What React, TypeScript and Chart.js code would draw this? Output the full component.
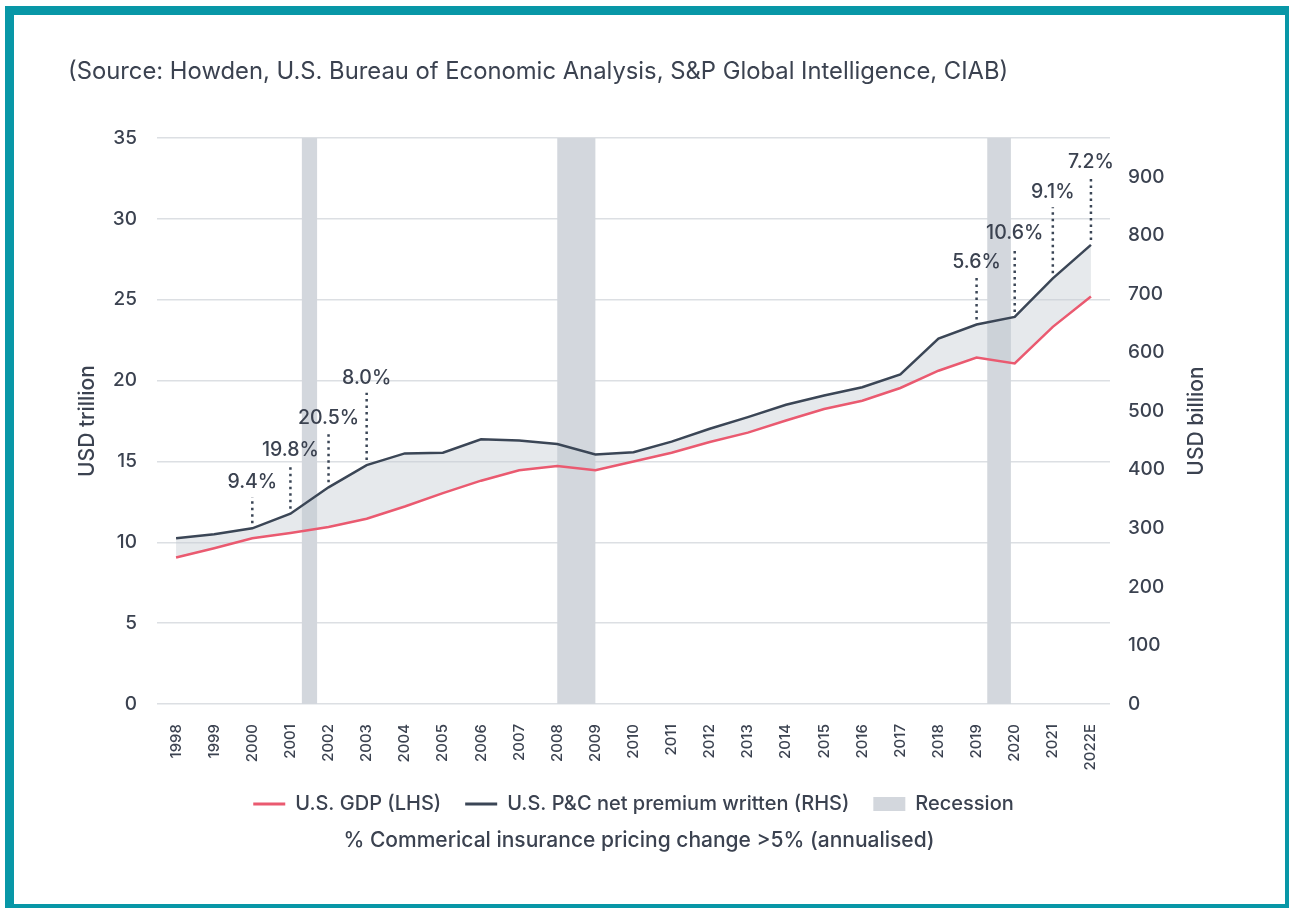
import React, { useEffect, useRef } from 'react';
import { Chart, registerables } from 'chart.js';

Chart.register(...registerables);

// ---- data ----
const years = ['1998', '1999', '2000', '2001', '2002', '2003', '2004', '2005', '2006', '2007', '2008', '2009', '2010', '2011', '2012', '2013', '2014', '2015', '2016', '2017', '2018', '2019', '2020', '2021', '2022E'];
const gdpTrillion = [9.06, 9.63, 10.25, 10.58, 10.94, 11.46, 12.21, 13.04, 13.81, 14.45, 14.71, 14.45, 15.0, 15.54, 16.2, 16.78, 17.53, 18.24, 18.75, 19.54, 20.61, 21.43, 21.06, 23.32, 25.2];
const premiumBillion = [283, 290, 300, 325, 370, 408, 428, 429, 452, 450, 444, 426, 430, 448, 470, 490, 511, 527, 541, 563, 624, 648, 661, 727, 784];
const recessionStart = [2001.3, 2008.0, 2019.28];
const recessionEnd = [2001.7, 2009.0, 2019.9];
const pricingYears = ['2000', '2001', '2002', '2003', '2019', '2020', '2021', '2022E'];
const pricingChange = [9.4, 19.8, 20.5, 8.0, 5.6, 10.6, 9.1, 7.2];
const pricingLabelLevel = [379, 434, 488, 557, 755, 804, 874, 926];
const leftTickStep = 5;
const leftMax = 35;
const rightTickStep = 100;

const FONT = 'Inter, "Noto Sans", sans-serif';
const TEXT = '#3b4250';
const RED = '#ea5a70';
const DARK = '#3b4656';
const BAND = '#d3d7dd';

function yearToPixel(xScale: any, year: number) {
  const idx = year - 1998;
  const i0 = Math.floor(idx);
  const frac = idx - i0;
  const p0 = xScale.getPixelForValue(i0);
  const p1 = xScale.getPixelForValue(i0 + 1);
  return p0 + frac * (p1 - p0);
}

const overlayPlugin = {
  id: 'overlay',
  beforeDatasetsDraw(chart: any) {
    const { ctx, chartArea, scales } = chart;
    ctx.save();
    ctx.fillStyle = BAND;
    for (let i = 0; i < recessionStart.length; i++) {
      const x0 = yearToPixel(scales.x, recessionStart[i]);
      const x1 = yearToPixel(scales.x, recessionEnd[i]);
      ctx.fillRect(x0, chartArea.top, x1 - x0, chartArea.bottom - chartArea.top);
    }
    ctx.restore();
  },
  afterDatasetsDraw(chart: any) {
    const { ctx, scales } = chart;
    ctx.save();
    for (let i = 0; i < pricingYears.length; i++) {
      const idx = years.indexOf(pricingYears[i]);
      const x = scales.x.getPixelForValue(idx);
      const yPoint = scales.y1.getPixelForValue(premiumBillion[idx]);
      const yLabel = scales.y1.getPixelForValue(pricingLabelLevel[i]);
      ctx.strokeStyle = DARK;
      ctx.lineWidth = 2.5;
      ctx.setLineDash([2.5, 4]);
      ctx.beginPath();
      ctx.moveTo(x, yPoint - 5);
      ctx.lineTo(x, yLabel + 15);
      ctx.stroke();
      ctx.setLineDash([]);
      ctx.fillStyle = TEXT;
      ctx.font = `500 19.5px ${FONT}`;
      ctx.textAlign = 'center';
      ctx.textBaseline = 'middle';
      ctx.fillText(pricingChange[i].toFixed(1) + '%', x, yLabel);
    }
    ctx.restore();
  },
  afterDraw(chart: any) {
    const { ctx, chartArea } = chart;
    ctx.save();
    ctx.translate(1197, (chartArea.top + chartArea.bottom) / 2);
    ctx.rotate(-Math.PI / 2);
    ctx.fillStyle = TEXT;
    ctx.font = `500 21px ${FONT}`;
    ctx.textAlign = 'center';
    ctx.textBaseline = 'middle';
    ctx.fillText('USD billion', 0, 0);
    ctx.restore();
  },
};

export default function App() {
  const canvasRef = useRef<HTMLCanvasElement | null>(null);

  useEffect(() => {
    document.body.style.margin = '0';
    const canvas = canvasRef.current;
    if (!canvas) return;
    const chart = new Chart(canvas, {
      type: 'line',
      data: {
        labels: years,
        datasets: [
          {
            label: 'U.S. GDP (LHS)',
            data: gdpTrillion,
            yAxisID: 'y',
            borderColor: RED,
            backgroundColor: RED,
            borderWidth: 2.5,
            pointRadius: 0,
            tension: 0,
            fill: false,
          },
          {
            label: 'U.S. P&C net premium written (RHS)',
            data: premiumBillion,
            yAxisID: 'y1',
            borderColor: DARK,
            backgroundColor: 'rgba(196, 202, 210, 0.42)',
            borderWidth: 2.5,
            pointRadius: 0,
            tension: 0,
            fill: { target: 0 },
          },
        ],
      },
      options: {
        responsive: false,
        animation: false,
        devicePixelRatio: 1,
        layout: { padding: { left: 68, right: 79, top: 55, bottom: 44.4 } },
        font: { family: FONT },
        scales: {
          x: {
            type: 'category',
            offset: true,
            grid: { display: false },
            border: { display: false },
            ticks: {
              autoSkip: false,
              minRotation: 90,
              maxRotation: 90,
              padding: 12,
              color: TEXT,
              font: { family: FONT, size: 15, weight: '500' },
            },
            afterFit(scale: any) {
              scale.height = 66;
            },
          },
          y: {
            type: 'linear',
            position: 'left',
            min: 0,
            max: leftMax,
            grid: { color: '#dcdfe3', lineWidth: 1.5, drawTicks: false },
            border: { display: false },
            ticks: {
              stepSize: leftTickStep,
              padding: 20,
              color: TEXT,
              font: { family: FONT, size: 19, weight: '500' },
            },
            title: {
              display: true,
              text: 'USD trillion',
              color: TEXT,
              font: { family: FONT, size: 21, weight: '500' },
              padding: { top: 7.4, bottom: 4 },
            },
            afterFit(scale: any) {
              scale.width = 89;
            },
          },
          y1: {
            type: 'linear',
            position: 'right',
            min: 0,
            max: 966.6,
            grid: { display: false, drawTicks: false },
            border: { display: false },
            ticks: {
              stepSize: rightTickStep,
              includeBounds: false,
              padding: 18,
              color: TEXT,
              font: { family: FONT, size: 19, weight: '500' },
            },
            afterBuildTicks(scale: any) {
              scale.ticks = scale.ticks.filter((t: any) => t.value % rightTickStep === 0);
            },
            afterFit(scale: any) {
              scale.width = 100;
            },
          },
        },
        plugins: {
          title: {
            display: true,
            text: '(Source: Howden, U.S. Bureau of Economic Analysis, S&P Global Intelligence, CIAB)',
            align: 'start',
            color: TEXT,
            font: { family: FONT, size: 23.8, weight: '400' },
            padding: { top: 3, bottom: 51.44 },
          },
          subtitle: {
            display: true,
            position: 'bottom',
            text: '% Commerical insurance pricing change >5% (annualised)',
            color: TEXT,
            font: { family: FONT, size: 21, weight: '500' },
            padding: { top: 4.4, bottom: 10 },
          },
          legend: {
            display: true,
            position: 'bottom',
            fullSize: false,
            labels: {
              usePointStyle: true,
              pointStyleWidth: 32,
              boxHeight: 14,
              padding: 24,
              color: TEXT,
              font: { family: FONT, size: 20, weight: '500' },
              generateLabels() {
                return [
                  { text: 'U.S. GDP (LHS)', pointStyle: 'line', strokeStyle: RED, fillStyle: RED, lineWidth: 3, datasetIndex: 0, fontColor: TEXT },
                  { text: 'U.S. P&C net premium written (RHS)', pointStyle: 'line', strokeStyle: DARK, fillStyle: DARK, lineWidth: 3, datasetIndex: 1, fontColor: TEXT },
                  { text: 'Recession', pointStyle: 'rect', strokeStyle: BAND, fillStyle: BAND, lineWidth: 0, fontColor: TEXT },
                ] as any;
              },
            },
          },
          tooltip: { enabled: false },
        },
      } as any,
      plugins: [overlayPlugin],
    });
    return () => chart.destroy();
  }, []);

  return (
    <div style={{ position: 'relative', width: 1289, height: 908, overflow: 'hidden', background: '#ffffff' }}>
      <div
        style={{
          position: 'absolute',
          left: 5,
          top: 6,
          width: 1289,
          height: 907,
          boxSizing: 'border-box',
          border: '9px solid #0897a7',
        }}
      />
      <canvas ref={canvasRef} width={1289} height={908} style={{ position: 'absolute', left: 0, top: 0, width: 1289, height: 908 }} />
    </div>
  );
}
